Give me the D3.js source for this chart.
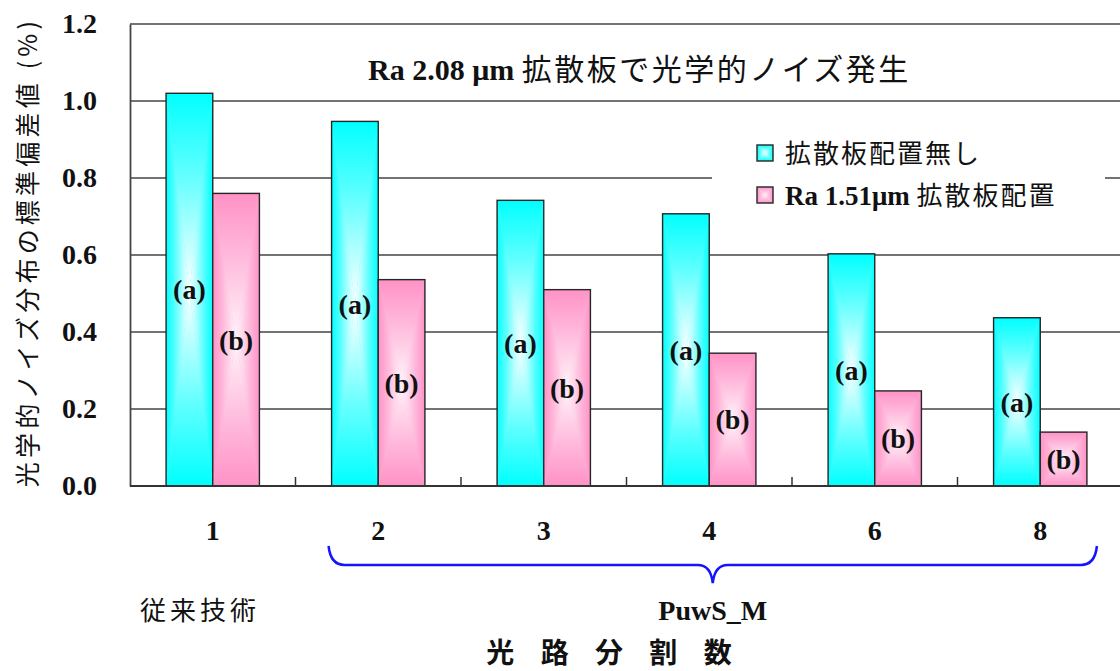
<!DOCTYPE html>
<html>
<head>
<meta charset="utf-8">
<script src="https://cdn.jsdelivr.net/npm/d3@7"></script>
<style>
  html, body { margin: 0; padding: 0; background: #fff; }
  svg { display: block; }
</style>
</head>
<body>
<svg id="chart" width="1120" height="671"></svg>
<script>
// Optical-path split count vs. std. deviation of optical noise distribution
const categories = ["1", "2", "3", "4", "6", "8"];
const seriesNames = ["拡散板配置無し", "Ra 1.51μm 拡散板配置"];
const seriesA = [1.02, 0.947, 0.742, 0.707, 0.603, 0.437]; // (a) no diffuser
const seriesB = [0.76, 0.536, 0.51, 0.345, 0.247, 0.14];   // (b) Ra 1.51µm diffuser
const barTags = ["(a)", "(b)"];
const yTicks = [0.0, 0.2, 0.4, 0.6, 0.8, 1.0, 1.2];

const svg = d3.select("#chart");
const W = 1120, H = 671;
const plot = { left: 130, top: 24, bottom: 486, right: 1123 };

const serif = "'Liberation Serif', 'Times New Roman', serif";
const gothic = "'Noto Sans CJK JP', 'Noto Sans', sans-serif";

const x0 = d3.scaleBand().domain(categories).range([plot.left, plot.right]).padding(0);
const bw = x0.bandwidth();
const x1 = d3.scaleBand().domain([0, 1]).range([bw * 0.218, bw * 0.782]).padding(0);
const y = d3.scaleLinear().domain([0, 1.2]).range([plot.bottom, plot.top]);

// ---- gradients: rectangular "from centre" fill built from four wedges
const palettes = [
  { id: "cy", edge: "#00ffff", mid: "#5dffff", center: "#ffffff" },
  { id: "pk", edge: "#ff92c6", mid: "#ffb6da", center: "#fff4f9" }
];
const defs = svg.append("defs");
const dirs = {
  L: { x1: 0, y1: 0, x2: 1, y2: 0 },
  R: { x1: 1, y1: 0, x2: 0, y2: 0 },
  T: { x1: 0, y1: 0, x2: 0, y2: 1 },
  B: { x1: 0, y1: 1, x2: 0, y2: 0 }
};
palettes.forEach(p => {
  Object.entries(dirs).forEach(([k, d]) => {
    const g = defs.append("linearGradient").attr("id", `${p.id}${k}`)
      .attr("x1", d.x1).attr("y1", d.y1).attr("x2", d.x2).attr("y2", d.y2);
    g.append("stop").attr("offset", 0).attr("stop-color", p.edge);
    g.append("stop").attr("offset", 0.4).attr("stop-color", p.mid);
    g.append("stop").attr("offset", 1).attr("stop-color", p.center);
  });
});

function gradientRect(sel, xL, yT, w, h, pid) {
  const xR = xL + w, yB = yT + h, cx = xL + w / 2, cy = yT + h / 2;
  const g = sel.append("g");
  g.append("rect").attr("x", xL).attr("y", yT).attr("width", w).attr("height", h)
    .attr("fill", palettes.find(p => p.id === pid).mid);
  const wedges = [
    ["L", [[xL, yT], [xL, yB], [cx, cy]]],
    ["R", [[xR, yT], [xR, yB], [cx, cy]]],
    ["T", [[xL, yT], [xR, yT], [cx, cy]]],
    ["B", [[xL, yB], [xR, yB], [cx, cy]]]
  ];
  wedges.forEach(([k, pts]) => {
    g.append("polygon").attr("points", pts.map(q => q.join(",")).join(" "))
      .attr("fill", `url(#${pid}${k})`);
  });
  g.append("rect").attr("x", xL).attr("y", yT).attr("width", w).attr("height", h)
    .attr("fill", "none").attr("stroke", "#262626").attr("stroke-width", 1.4);
  return g;
}

// ---- horizontal gridlines
svg.append("g").selectAll("line").data(yTicks.filter(v => v > 0)).join("line")
  .attr("x1", plot.left).attr("x2", W)
  .attr("y1", d => y(d)).attr("y2", d => y(d))
  .attr("stroke", "#444").attr("stroke-width", 1.5);

// ---- bars
const groups = categories.map((c, i) => ({ c, vals: [seriesA[i], seriesB[i]] }));
const barLayer = svg.append("g");
groups.forEach(gd => {
  gd.vals.forEach((v, j) => {
    const bx = x0(gd.c) + x1(j);
    const by = y(v);
    gradientRect(barLayer, bx, by, x1.bandwidth(), y(0) - by, j === 0 ? "cy" : "pk");
  });
});

// bar tags (a)/(b), centred vertically on each bar
groups.forEach(gd => {
  gd.vals.forEach((v, j) => {
    svg.append("text")
      .attr("x", x0(gd.c) + x1(j) + x1.bandwidth() / 2)
      .attr("y", (y(v) + y(0)) / 2)
      .attr("dy", "0.35em")
      .attr("text-anchor", "middle")
      .attr("font-family", serif).attr("font-weight", "bold").attr("font-size", 28)
      .attr("fill", "#111")
      .text(barTags[j]);
  });
});

// ---- axes
const yAxis = d3.axisLeft(y).tickValues(yTicks).tickSize(0).tickPadding(33)
  .tickFormat(d3.format(".1f"));
const yg = svg.append("g").attr("transform", `translate(${plot.left},0)`).call(yAxis);
yg.select(".domain").attr("stroke", "#444").attr("stroke-width", 1.8);
yg.selectAll("text").attr("font-family", serif).attr("font-weight", "bold")
  .attr("font-size", 28).attr("fill", "#111");

// baseline and boundary ticks
svg.append("line").attr("x1", plot.left).attr("x2", W)
  .attr("y1", y(0)).attr("y2", y(0)).attr("stroke", "#333").attr("stroke-width", 1.8);
svg.append("g").selectAll("line").data(categories.slice(1)).join("line")
  .attr("x1", d => x0(d)).attr("x2", d => x0(d))
  .attr("y1", y(0)).attr("y2", y(0) - 9)
  .attr("stroke", "#333").attr("stroke-width", 1.5);

const xAxis = d3.axisBottom(x0).tickSize(0).tickPadding(34);
const xg = svg.append("g").attr("transform", `translate(0,${y(0)})`).call(xAxis);
xg.select(".domain").remove();
xg.selectAll("text").attr("font-family", serif).attr("font-weight", "bold")
  .attr("font-size", 28).attr("fill", "#111");

// ---- title
const title = svg.append("text").attr("x", 368).attr("y", 80)
  .attr("font-size", 30).attr("fill", "#111");
title.append("tspan").attr("font-family", serif).attr("font-weight", "bold").text("Ra 2.08 μm ");
title.append("tspan").attr("font-family", gothic).attr("letter-spacing", 2.5).text("拡散板で光学的ノイズ発生");

// ---- legend
svg.append("rect").attr("x", 712).attr("y", 125).attr("width", 393).attr("height", 95).attr("fill", "#fff");
const legY = [153, 195];
seriesNames.forEach((n, i) => {
  gradientRect(svg, 757, legY[i] - 8, 16, 16, i === 0 ? "cy" : "pk");
});
svg.append("text").attr("x", 785).attr("y", legY[0] + 10)
  .attr("font-family", gothic).attr("font-size", 26).attr("letter-spacing", 2).attr("fill", "#111")
  .text(seriesNames[0]);
const l2 = svg.append("text").attr("x", 785).attr("y", legY[1] + 10).attr("font-size", 27).attr("fill", "#111");
l2.append("tspan").attr("font-family", serif).attr("font-weight", "bold").text("Ra 1.51μm ");
l2.append("tspan").attr("font-family", gothic).attr("font-size", 26).attr("letter-spacing", 2).text("拡散板配置");

// ---- y axis title
svg.append("text")
  .attr("transform", `translate(37,252) rotate(-90)`)
  .attr("text-anchor", "middle")
  .attr("font-family", gothic).attr("font-size", 25).attr("letter-spacing", 4.2).attr("fill", "#111")
  .text("光学的ノイズ分布の標準偏差値 (%)");

// ---- brace grouping the PuwS_M categories
const bL = x0("2") + x1(0) - 3;
const bR = x0("8") + x1(1) + x1.bandwidth() + 10;
const bM = (bL + bR) / 2;
const bTop = 546, bLine = 565, bTip = 583;
const brace = d3.path();
brace.moveTo(bL, bTop);
brace.quadraticCurveTo(bL + 2, bLine, bL + 16, bLine);
brace.lineTo(bM - 15, bLine);
brace.quadraticCurveTo(bM - 2, bLine, bM, bTip);
brace.quadraticCurveTo(bM + 2, bLine, bM + 15, bLine);
brace.lineTo(bR - 16, bLine);
brace.quadraticCurveTo(bR - 2, bLine, bR, bTop);
svg.append("path").attr("d", brace.toString())
  .attr("fill", "none").attr("stroke", "#1414ff").attr("stroke-width", 2.5);

// ---- group captions and x axis title
svg.append("text").attr("x", 140).attr("y", 620)
  .attr("font-family", gothic).attr("font-size", 26).attr("letter-spacing", 4).attr("fill", "#111")
  .text("従来技術");
svg.append("text").attr("x", bM).attr("y", 620).attr("text-anchor", "middle")
  .attr("font-family", serif).attr("font-weight", "bold").attr("font-size", 28).attr("fill", "#111")
  .text("PuwS_M");
svg.append("text").attr("x", 614).attr("y", 663).attr("text-anchor", "middle")
  .attr("font-family", gothic).attr("font-weight", "bold").attr("font-size", 28)
  .attr("letter-spacing", 10).attr("fill", "#111")
  .text("光 路 分 割 数");
</script>
</body>
</html>
